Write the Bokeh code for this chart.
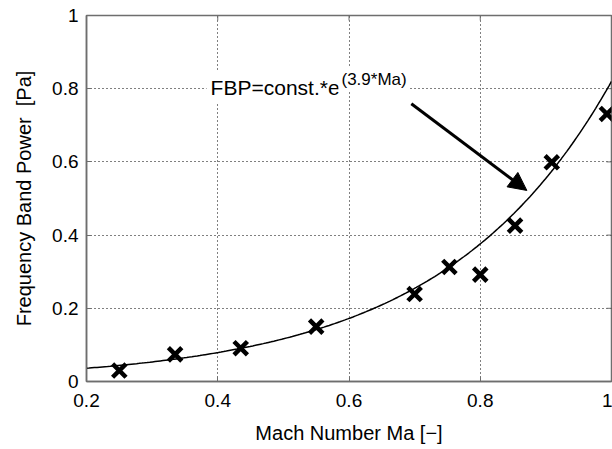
from bokeh.plotting import figure
from bokeh.models import (FixedTicker, Range1d, Label, Arrow, NormalHead,
                          ColumnDataSource)
from bokeh.embed import file_html
from bokeh.resources import INLINE
import numpy as np

# Measured frequency band power against Mach number
mach = [0.25, 0.335, 0.435, 0.55, 0.70, 0.753, 0.80, 0.853, 0.909, 0.993]
fbp = [0.030, 0.074, 0.091, 0.150, 0.239, 0.313, 0.292, 0.426, 0.599, 0.731]

# Exponential fit FBP = const * exp(3.9 * Ma)
fit_const = 0.0166
fit_exp = 3.9
fit_ma = np.linspace(0.2, 1.0, 200)
fit_fbp = fit_const * np.exp(fit_exp * fit_ma)

x_ticks = [0.2, 0.4, 0.6, 0.8, 1.0]
x_tick_labels = ["0.2", "0.4", "0.6", "0.8", "1"]
y_ticks = [0.0, 0.2, 0.4, 0.6, 0.8, 1.0]
y_tick_labels = ["0", "0.2", "0.4", "0.6", "0.8", "1"]

FONT = "Liberation Sans"
AXIS_GREY = "#6e6e6e"

p = figure(width=612, height=449, output_backend="svg", toolbar_location=None,
           x_range=Range1d(0.2, 1.0), y_range=Range1d(0.0, 1.0),
           min_border_left=86, min_border_right=1, min_border_top=15,
           min_border_bottom=68, x_axis_label="Mach Number Ma [\u2212]",
           y_axis_label="Frequency Band Power\u00a0 [Pa]")
p.outline_line_color = AXIS_GREY
p.outline_line_width = 1.5
p.background_fill_color = "white"
p.border_fill_color = "white"

for ax, ticks, labels in ((p.xaxis[0], x_ticks, x_tick_labels),
                          (p.yaxis[0], y_ticks, y_tick_labels)):
    ax.ticker = FixedTicker(ticks=ticks)
    ax.major_label_overrides = {t: l for t, l in zip(ticks, labels)}
    ax.axis_line_color = AXIS_GREY
    ax.axis_line_width = 1.5
    ax.major_tick_line_color = AXIS_GREY
    ax.major_tick_in = 5
    ax.major_tick_out = 0
    ax.minor_tick_line_color = None
    ax.major_label_text_font = FONT
    ax.major_label_text_font_size = "19px"
    ax.major_label_text_color = "black"
    ax.axis_label_text_font = FONT
    ax.axis_label_text_font_size = "20px"
    ax.axis_label_text_font_style = "normal"
    ax.axis_label_text_color = "black"

p.xaxis[0].major_label_standoff = 12
p.xaxis[0].axis_label_standoff = 12
p.yaxis[0].major_label_standoff = 8
p.yaxis[0].axis_label_standoff = 14

p.xgrid.ticker = FixedTicker(ticks=x_ticks)
p.ygrid.ticker = FixedTicker(ticks=y_ticks)
for g in (p.xgrid[0], p.ygrid[0]):
    g.grid_line_color = "black"
    g.grid_line_dash = "1 3"
    g.grid_line_width = 1

# Inward ticks along the top and right edges of the box (clipped halves)
p.scatter(x=x_ticks, y=[p.y_range.end] * len(x_ticks), marker="dash",
          angle=np.pi / 2, size=10, line_color=AXIS_GREY, line_width=1)
p.scatter(x=[p.x_range.end] * len(y_ticks), y=y_ticks, marker="dash",
          size=10, line_color=AXIS_GREY, line_width=1)

p.line(fit_ma, fit_fbp, line_color="black", line_width=1.5)

src = ColumnDataSource(dict(mach=mach, fbp=fbp))
p.scatter("mach", "fbp", source=src, marker="x", size=19, line_width=4.5,
          line_color="black")

p.add_layout(Arrow(x_start=0.695, y_start=0.759, x_end=0.871, y_end=0.522,
                   line_width=3, line_color="black",
                   end=NormalHead(size=18, fill_color="black",
                                  line_color="black")))

p.add_layout(Label(x=0.383, y=0.803, text="FBP=const.*e",
                   text_font=FONT, text_font_size="21px",
                   text_color="black", text_baseline="alphabetic",
                   background_fill_color="white", padding=4))
p.add_layout(Label(x=0.584, y=0.826, text="(3.9*Ma)",
                   text_font=FONT, text_font_size="17px",
                   text_color="black", text_baseline="alphabetic",
                   background_fill_color="white", padding=3))

open("out.html", "w").write(file_html(p, INLINE))
